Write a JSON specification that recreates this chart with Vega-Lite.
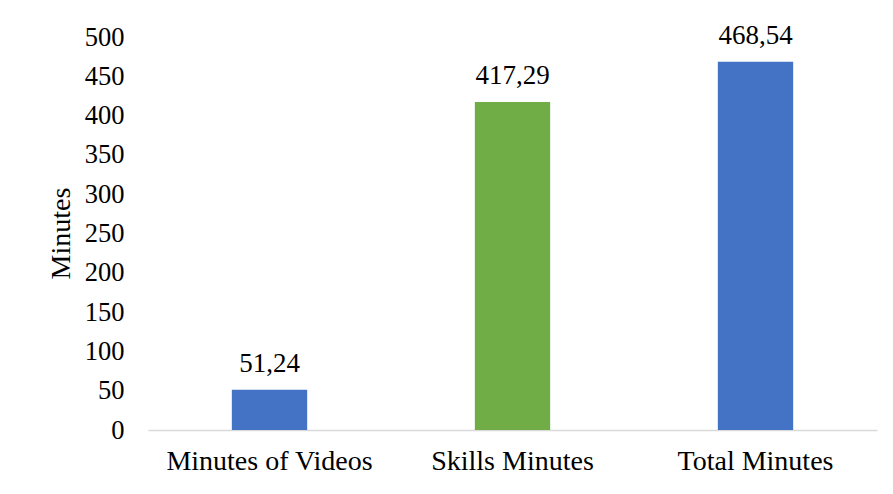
{
  "$schema": "https://vega.github.io/schema/vega-lite/v6.json",
  "width": 729,
  "height": 393,
  "autosize": {"type": "none"},
  "padding": {"left": 148, "top": 37, "right": 16, "bottom": 64},
  "background": "white",
  "config": {
    "view": {"stroke": null},
    "font": "Liberation Serif",
    "locale": {"number": {"decimal": ",", "thousands": ".", "grouping": [3], "currency": ["", ""]}}
  },
  "data": {
    "values": [
      {"category": "Minutes of Videos", "minutes": 51.24, "color": "blue"},
      {"category": "Skills Minutes", "minutes": 417.29, "color": "green"},
      {"category": "Total Minutes", "minutes": 468.54, "color": "blue"}
    ]
  },
  "encoding": {
    "x": {
      "field": "category",
      "type": "nominal",
      "sort": null,
      "scale": {"paddingInner": 0.69, "paddingOuter": 0.345},
      "axis": {
        "title": null,
        "labelAngle": 0,
        "labelFont": "Liberation Serif",
        "labelFontSize": 28,
        "labelColor": "#000000",
        "labelPadding": 17,
        "labelLimit": 0,
        "ticks": false,
        "domainColor": "#D9D9D9",
        "domainWidth": 1.5
      }
    },
    "y": {
      "field": "minutes",
      "type": "quantitative",
      "scale": {"domain": [0, 500], "nice": false},
      "axis": {
        "title": "Minutes",
        "titleFont": "Liberation Serif",
        "titleFontSize": 28,
        "titleFontWeight": "normal",
        "titleColor": "#000000",
        "titleX": -87,
        "titleY": 196,
        "titleAlign": "center",
        "titleBaseline": "middle",
        "titleAngle": -90,
        "values": [0, 50, 100, 150, 200, 250, 300, 350, 400, 450, 500],
        "labelFont": "Liberation Serif",
        "labelFontSize": 26.5,
        "labelColor": "#000000",
        "labelPadding": 24,
        "ticks": false,
        "domain": false,
        "grid": false
      }
    }
  },
  "layer": [
    {
      "mark": {"type": "bar"},
      "encoding": {
        "color": {
          "field": "color",
          "type": "nominal",
          "scale": {"domain": ["blue", "green"], "range": ["#4472C4", "#70AD47"]},
          "legend": null
        }
      }
    },
    {
      "mark": {"type": "text", "dy": -18, "baseline": "alphabetic", "fontSize": 27, "font": "Liberation Serif", "color": "#000000"},
      "encoding": {
        "text": {"field": "minutes", "type": "quantitative", "format": ".2f"}
      }
    }
  ]
}
